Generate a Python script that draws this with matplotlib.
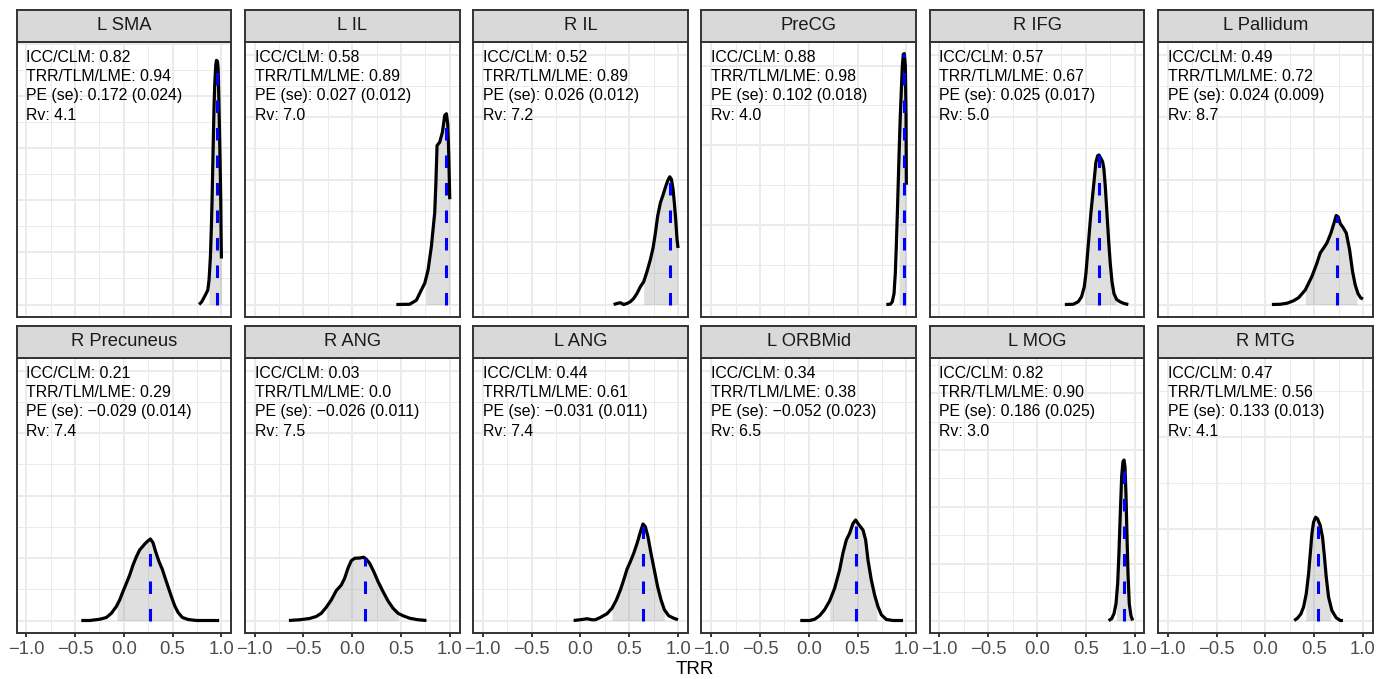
import numpy as np
import matplotlib
matplotlib.use("Agg")
import matplotlib.pyplot as plt
from matplotlib.ticker import MultipleLocator

plt.rcParams["font.family"] = ["Liberation Sans", "DejaVu Sans"]

# ---------------------------------------------------------------------------
# Data
# ---------------------------------------------------------------------------
REGIONS = ["L SMA", "L IL", "R IL", "PreCG", "R IFG", "L Pallidum",
           "R Precuneus", "R ANG", "L ANG", "L ORBMid", "L MOG", "R MTG"]
ICC = ["0.82", "0.58", "0.52", "0.88", "0.57", "0.49",
       "0.21", "0.03", "0.44", "0.34", "0.82", "0.47"]
TRR = ["0.94", "0.89", "0.89", "0.98", "0.67", "0.72",
       "0.29", "0.0", "0.61", "0.38", "0.90", "0.56"]
PE = ["0.172", "0.027", "0.026", "0.102", "0.025", "0.024",
      "\u22120.029", "\u22120.026", "\u22120.031", "\u22120.052", "0.186", "0.133"]
PE_SE = ["0.024", "0.012", "0.012", "0.018", "0.017", "0.009",
         "0.014", "0.011", "0.011", "0.023", "0.025", "0.013"]
RV = ["4.1", "7.0", "7.2", "4.0", "5.0", "8.7",
      "7.4", "7.5", "7.4", "6.5", "3.0", "4.1"]

# posterior mode and 95% interval of TRR
TRR_MODE = [0.952, 0.966, 0.921, 0.973, 0.634, 0.730,
            0.272, 0.128, 0.644, 0.487, 0.891, 0.538]
CI_LO = [0.873, 0.754, 0.648, 0.925, 0.491, 0.409,
         -0.070, -0.265, 0.323, 0.214, 0.815, 0.415]
CI_HI = [1.0, 1.0, 1.0, 1.0, 0.809, 0.938,
         0.504, 0.477, 0.860, 0.699, 0.952, 0.672]

# posterior densities of TRR
x_lsma = [0.771, 0.798, 0.829, 0.860, 0.873, 0.887, 0.897, 0.904, 0.911, 0.918, 0.925,
          0.932, 0.942, 0.949, 0.959, 0.966, 0.973, 0.979, 0.986, 0.993, 0.997, 1.0]
y_lsma = [0.0, 0.13, 0.40, 0.69, 1.17, 2.29, 3.74, 5.02, 6.62, 8.22, 9.67,
          10.63, 11.51, 11.72, 11.67, 11.35, 9.99, 8.54, 6.94, 5.02, 3.09, 2.21]

x_lil = [0.453, 0.590, 0.658, 0.709, 0.744, 0.778, 0.812, 0.829, 0.846,
         0.857, 0.870, 0.897, 0.925, 0.949, 0.966, 0.980, 0.990, 1.0]
y_lil = [0.0, 0.01, 0.17, 0.58, 0.85, 1.38, 2.33, 3.00, 3.67,
         4.74, 6.36, 6.49, 6.89, 7.57, 7.63, 7.20, 6.00, 4.21]

x_ril = [0.340, 0.374, 0.409, 0.443, 0.477, 0.511, 0.545, 0.579, 0.614, 0.648, 0.682, 0.716, 0.744,
         0.768, 0.791, 0.819, 0.843, 0.870, 0.894, 0.915, 0.932, 0.949, 0.962, 0.976, 0.990, 1.0]
y_ril = [0.0, 0.04, 0.07, 0.0, 0.04, 0.11, 0.24, 0.44, 0.71, 0.91, 1.32, 1.79, 2.26,
         2.86, 3.53, 4.07, 4.34, 4.68, 4.95, 5.11, 5.01, 4.61, 4.07, 3.40, 2.59, 2.26]

x_precg = [0.795, 0.836, 0.856, 0.874, 0.887, 0.897, 0.908, 0.918, 0.928,
           0.938, 0.949, 0.959, 0.969, 0.979, 0.990, 0.997, 1.0]
y_precg = [0.0, 0.02, 0.17, 0.69, 1.95, 3.63, 5.74, 7.84, 9.94,
           11.83, 13.51, 14.98, 15.71, 15.76, 14.98, 11.83, 7.52]

x_rifg = [0.285, 0.371, 0.422, 0.456, 0.484, 0.501, 0.518, 0.535, 0.552, 0.569, 0.586, 0.603, 0.621, 0.634,
          0.648, 0.672, 0.685, 0.699, 0.716, 0.733, 0.750, 0.768, 0.788, 0.815, 0.850, 0.891, 0.935]
y_rifg = [0.0, 0.01, 0.11, 0.31, 0.71, 1.25, 2.06, 2.86, 3.67, 4.34, 5.01, 5.69, 5.95, 5.98,
          5.89, 5.71, 5.42, 4.74, 3.67, 2.59, 1.65, 0.91, 0.44, 0.20, 0.11, 0.04, 0.0]

x_lpal = [0.067, 0.152, 0.221, 0.289, 0.340, 0.409, 0.477, 0.528, 0.562, 0.597, 0.631, 0.672,
          0.706, 0.726, 0.747, 0.768, 0.795, 0.829, 0.863, 0.894, 0.921, 0.949, 0.976, 1.0]
y_lpal = [0.0, 0.01, 0.05, 0.15, 0.27, 0.58, 1.12, 1.65, 2.06, 2.26, 2.46, 2.86,
          3.29, 3.56, 3.50, 3.23, 3.09, 2.86, 2.19, 1.31, 0.78, 0.44, 0.27, 0.22]

x_rprec = [-0.436, -0.350, -0.248, -0.179, -0.128, -0.077, -0.043, -0.009, 0.026, 0.060,
           0.094, 0.128, 0.162, 0.214, 0.248, 0.272, 0.299, 0.326, 0.361, 0.395,
           0.419, 0.453, 0.487, 0.521, 0.556, 0.600, 0.658, 0.744, 0.846, 0.976]
y_rprec = [0.0, 0.0, 0.05, 0.12, 0.29, 0.56, 0.82, 1.16, 1.49, 1.82,
           2.22, 2.55, 2.82, 3.06, 3.19, 3.26, 3.11, 2.75, 2.35, 2.04,
           1.75, 1.35, 0.96, 0.59, 0.32, 0.12, 0.04, 0.0, 0.0, 0.0]

x_rang = [-0.648, -0.538, -0.436, -0.368, -0.316, -0.265, -0.214, -0.162, -0.111, -0.077, -0.043, -0.009, 0.026,
          0.077, 0.118, 0.145, 0.179, 0.221, 0.265, 0.316, 0.368, 0.419, 0.470, 0.521, 0.590, 0.675, 0.761]
y_rang = [0.0, 0.03, 0.08, 0.16, 0.29, 0.53, 0.82, 1.20, 1.42, 1.69, 2.09, 2.39, 2.49,
          2.50, 2.53, 2.45, 2.29, 1.96, 1.56, 1.16, 0.78, 0.49, 0.29, 0.19, 0.09, 0.03, 0.0]

x_lang = [-0.070, -0.002, 0.067, 0.118, 0.152, 0.203, 0.272, 0.323, 0.368, 0.409, 0.443, 0.477, 0.511,
          0.545, 0.579, 0.614, 0.641, 0.665, 0.692, 0.723, 0.757, 0.791, 0.826, 0.860, 0.904, 0.956, 1.0]
y_lang = [0.0, 0.03, 0.07, 0.03, 0.03, 0.12, 0.27, 0.49, 0.82, 1.22, 1.62, 2.05, 2.35,
          2.68, 3.07, 3.54, 3.86, 3.75, 3.35, 2.68, 2.02, 1.35, 0.82, 0.43, 0.19, 0.09, 0.03]

x_lorb = [-0.087, 0.009, 0.060, 0.111, 0.162, 0.214, 0.265, 0.316, 0.350, 0.385, 0.419, 0.453,
          0.480, 0.508, 0.556, 0.583, 0.607, 0.641, 0.675, 0.709, 0.744, 0.795, 0.863, 0.966]
y_lorb = [0.0, 0.0, 0.05, 0.19, 0.43, 0.78, 1.29, 2.02, 2.69, 3.22, 3.49, 3.88,
          4.02, 3.86, 3.62, 3.22, 2.42, 1.62, 1.02, 0.56, 0.23, 0.04, 0.0, 0.0]

x_lmog = [0.733, 0.764, 0.788, 0.809, 0.826, 0.839, 0.853, 0.867, 0.880,
          0.891, 0.901, 0.911, 0.921, 0.932, 0.945, 0.962, 0.979]
y_lmog = [0.0, 0.15, 0.59, 1.47, 3.24, 5.88, 9.41, 12.65, 13.97,
          14.12, 13.53, 11.18, 7.65, 4.12, 1.47, 0.44, 0.0]

x_rmtg = [0.296, 0.330, 0.364, 0.391, 0.419, 0.443, 0.460, 0.477, 0.494, 0.515,
          0.535, 0.562, 0.586, 0.603, 0.624, 0.648, 0.682, 0.726, 0.768, 0.795]
y_rmtg = [0.0, 0.13, 0.36, 0.72, 1.45, 2.54, 3.62, 4.71, 5.35, 5.62,
          5.53, 5.17, 4.53, 3.62, 2.36, 1.27, 0.54, 0.15, 0.0, 0.0]

DENS_X = [x_lsma, x_lil, x_ril, x_precg, x_rifg, x_lpal,
          x_rprec, x_rang, x_lang, x_lorb, x_lmog, x_rmtg]
DENS_Y = [y_lsma, y_lil, y_ril, y_precg, y_rifg, y_lpal,
          y_rprec, y_rang, y_lang, y_lorb, y_lmog, y_rmtg]

X_TICKS = [-1.0, -0.5, 0.0, 0.5, 1.0]
X_TICK_LABELS = ["\u22121.0", "\u22120.5", "0.0", "0.5", "1.0"]

# ---------------------------------------------------------------------------
# Layout (pixels)
# ---------------------------------------------------------------------------
W, H = 1391, 679
PANEL_LEFT, PANEL_W, GAP = 16.5, 214.7, 13.6
ROW_TOP = [42, 358]          # top edge of each row's panels (below strip)
PANEL_H, STRIP_H = 275, 32

# free y scales: top of data range and major break step per panel
Y_TOP = [12.0, 10, 10, 15.7, 10, 10, 10, 10, 10, 10, 22, 13.6]
Y_STEP = [2.5, 2.5, 2.5, 5, 2.5, 2.5, 2.5, 2.5, 2.5, 2.5, 5, 5]

GRID = "#EBEBEB"
BORDER = "#333333"

fig = plt.figure(figsize=(W / 100, H / 100), dpi=100)
fig.patch.set_facecolor("white")

for i, name in enumerate(REGIONS):
    r, c = divmod(i, 6)
    left = PANEL_LEFT + c * (PANEL_W + GAP)
    top = ROW_TOP[r]
    ax = fig.add_axes([left / W, 1 - (top + PANEL_H) / H, PANEL_W / W, PANEL_H / H])

    xs = np.array(DENS_X[i])
    ys = np.array(DENS_Y[i])

    # shaded 95% interval under the curve
    xf = np.linspace(CI_LO[i], CI_HI[i], 300)
    ax.fill_between(xf, 0, np.interp(xf, xs, ys), color="#808080", alpha=0.25,
                    lw=0, zorder=2)
    ax.plot(xs, ys, color="black", lw=2.3, solid_capstyle="butt", zorder=3)

    # mode
    m = TRR_MODE[i]
    ax.plot([m, m], [0, np.interp(m, xs, ys)], color="#0000FF", lw=2.2,
            dashes=(4.1, 4.9), dash_capstyle="butt", zorder=4)

    lines = [f"ICC/CLM: {ICC[i]}",
             f"TRR/TLM/LME: {TRR[i]}",
             f"PE (se): {PE[i]} ({PE_SE[i]})",
             f"Rv: {RV[i]}"]
    for k, s in enumerate(lines):
        ax.annotate(s, xy=(-1.0, Y_TOP[i]), xytext=(0, -1.8 - k * 14.0),
                    textcoords="offset points", ha="left", va="center",
                    fontsize=11.4, color="black", zorder=5)

    t = Y_TOP[i]
    ax.set_xlim(-1.1, 1.1)
    ax.set_ylim(-0.05 * t, 1.05 * t)
    ax.xaxis.set_major_locator(plt.FixedLocator(X_TICKS))
    ax.xaxis.set_minor_locator(MultipleLocator(0.25))
    ax.yaxis.set_major_locator(MultipleLocator(Y_STEP[i]))
    ax.yaxis.set_minor_locator(MultipleLocator(Y_STEP[i] / 2))
    ax.grid(which="major", color=GRID, lw=1.4)
    ax.grid(which="minor", color=GRID, lw=0.7)
    ax.set_axisbelow(True)

    ax.tick_params(axis="y", which="both", left=False, labelleft=False)
    ax.tick_params(axis="x", which="minor", bottom=False)
    if r == 1:
        ax.set_xticklabels(X_TICK_LABELS)
        ax.tick_params(axis="x", which="major", length=2.9, width=1.4,
                       color=BORDER, labelsize=13.3, labelcolor="#4D4D4D", pad=2.5)
    else:
        ax.tick_params(axis="x", which="major", bottom=False, labelbottom=False)

    for sp in ax.spines.values():
        sp.set_color(BORDER)
        sp.set_linewidth(1.4)

    # facet strip
    sax = fig.add_axes([left / W, 1 - top / H, PANEL_W / W, STRIP_H / H])
    sax.set_facecolor("#D9D9D9")
    sax.set_xticks([])
    sax.set_yticks([])
    for sp in sax.spines.values():
        sp.set_color(BORDER)
        sp.set_linewidth(1.4)
    sax.text(0.5, 0.5, name, ha="center", va="center", fontsize=13.2,
             color="#1A1A1A", transform=sax.transAxes)

fig.text((PANEL_LEFT + (6 * PANEL_W + 5 * GAP) / 2) / W, 1 - 669 / H, "TRR",
         ha="center", va="center", fontsize=13.5, color="black")

fig.savefig("out.png", dpi=100, facecolor="white")
